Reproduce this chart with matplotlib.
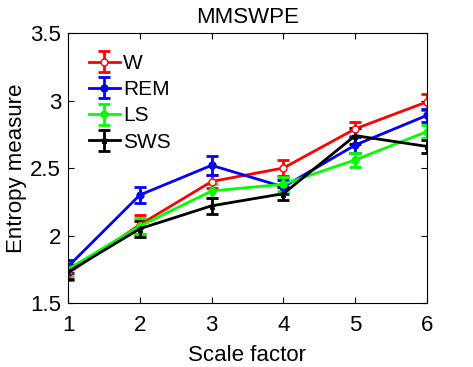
import matplotlib
matplotlib.use('Agg')
import matplotlib.pyplot as plt

plt.rcParams['font.family'] = ['Liberation Sans', 'DejaVu Sans']

scale = [1, 2, 3, 4, 5, 6]
w_mean = [1.72, 2.08, 2.40, 2.50, 2.79, 2.99]
w_err = [0.05, 0.07, 0.05, 0.06, 0.05, 0.06]
rem_mean = [1.77, 2.30, 2.52, 2.36, 2.67, 2.89]
rem_err = [0.05, 0.06, 0.07, 0.05, 0.06, 0.05]
ls_mean = [1.75, 2.07, 2.33, 2.38, 2.56, 2.77]
ls_err = [0.05, 0.06, 0.05, 0.05, 0.05, 0.05]
sws_mean = [1.73, 2.05, 2.22, 2.31, 2.74, 2.66]
sws_err = [0.05, 0.06, 0.06, 0.05, 0.06, 0.05]

series = [
    ('W', w_mean, w_err, '#ff0000', 'o', 'white'),
    ('REM', rem_mean, rem_err, '#0000ff', 'o', '#0000ff'),
    ('LS', ls_mean, ls_err, '#00ff00', 'o', '#00ff00'),
    ('SWS', sws_mean, sws_err, '#000000', '*', '#000000'),
]

fig = plt.figure(figsize=(4.73, 3.67), dpi=100)
ax = fig.add_axes([0.1438, 0.1744, 0.7589, 0.7356])

for name, y, e, c, m, mfc in series:
    ax.errorbar(scale, y, yerr=e, color=c, marker=m, markersize=5,
                markerfacecolor=mfc, markeredgecolor=c, linewidth=2,
                elinewidth=2, capsize=4, capthick=2, label=name)

ax.set_xlim(1, 6)
ax.set_ylim(1.5, 3.5)
ax.set_xticks(scale)
ax.set_yticks([1.5, 2, 2.5, 3, 3.5])
ax.set_yticklabels(['1.5', '2', '2.5', '3', '3.5'])
ax.tick_params(direction='in', labelsize=16, top=True, right=True, length=4)
ax.tick_params(axis='x', pad=9)
ax.tick_params(axis='y', pad=5)
ax.set_xlabel('Scale factor', fontsize=16, labelpad=6)
ax.set_ylabel('Entropy measure', fontsize=16, labelpad=2)
ax.set_title('MMSWPE', fontsize=16, pad=7)
ax.legend(loc='upper left', frameon=False, fontsize=15, handlelength=1.5,
          borderaxespad=0.6, labelspacing=0.35, handletextpad=0.15)

fig.savefig('out.png', dpi=100)
